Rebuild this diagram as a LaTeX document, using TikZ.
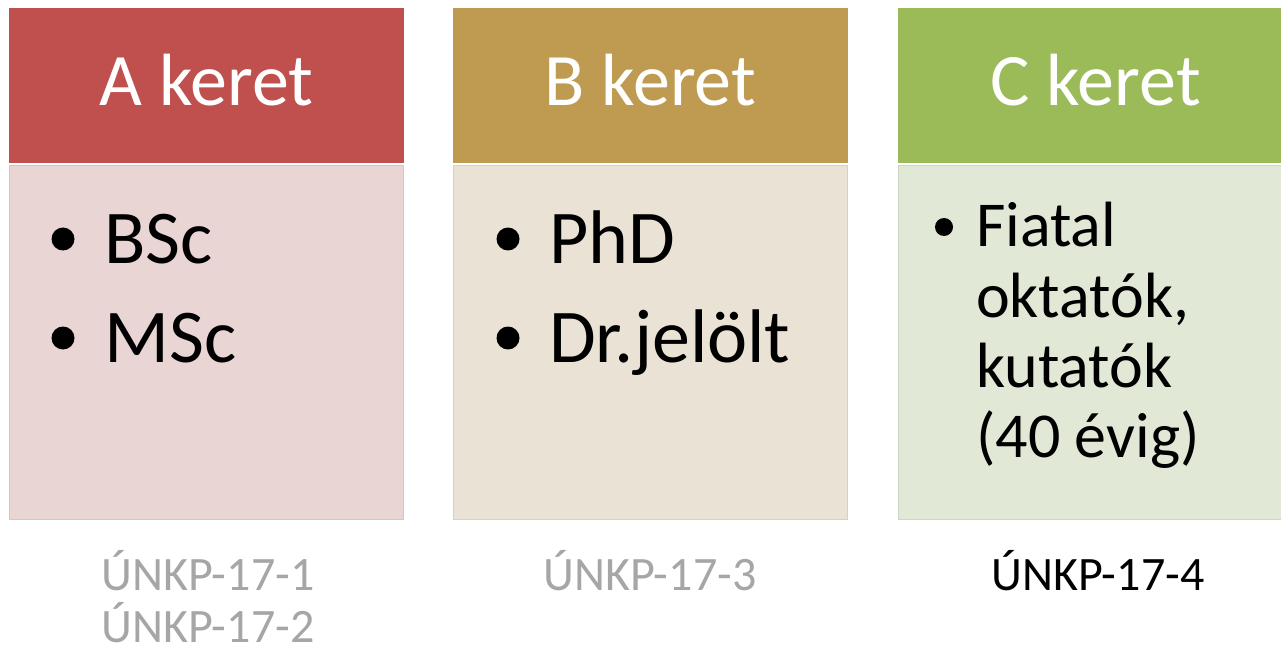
\documentclass[tikz,border=0pt]{standalone}
\usepackage{fontspec}
\setmainfont{Carlito}
\definecolor{hA}{HTML}{C0504D}
\definecolor{hB}{HTML}{BF9B52}
\definecolor{hC}{HTML}{9BBB59}
\definecolor{bA}{HTML}{EAD5D5}
\definecolor{bB}{HTML}{EAE3D5}
\definecolor{bC}{HTML}{E1E8D5}
\definecolor{lgray}{HTML}{A6A6A6}
\tikzset{
  head/.style={fill=#1, draw=none},
  body/.style={fill=#1, draw=#1!92!black, line width=1pt},
  htext/.style={text=white, font=\fontsize{74}{88}\selectfont, anchor=base, inner sep=0pt},
  btext/.style={text=black, font=\fontsize{76}{90}\selectfont, anchor=base west, inner sep=0pt},
  ctext/.style={text=black, font=\fontsize{64}{70}\selectfont, anchor=base west, inner sep=0pt, align=left},
  ltext/.style={font=\fontsize{48}{58}\selectfont, anchor=base, inner sep=0pt},
  bul/.style={circle, fill=black, inner sep=0pt, minimum size=#1},
}
\begin{document}
\begin{tikzpicture}[x=1pt,y=-1pt]
\useasboundingbox (0,0) rectangle (1281,652);
\begin{scope}
\clip (0,0) rectangle (1281,652);
% column A
\path[head=hA] (9,8) rectangle (404,163);
\path[body=bA] (9.5,165.5) rectangle (403.5,519.5);
% column B
\path[head=hB] (453,8) rectangle (848,163);
\path[body=bB] (453.5,165.5) rectangle (847.5,519.5);
% column C
\path[head=hC] (898,8) rectangle (1293,163);
\path[body=bC] (898.5,165.5) rectangle (1292.5,519.5);
\end{scope}
% headers
\node[htext] (ha) at (206.5,106) {A keret};
\node[htext] (hb) at (650.5,106) {B keret};
\node[htext] (hc) at (1095.5,106) {C keret};
% A body
\node[bul=23pt] (a1b) at (63,239) {};
\node[btext] (a1) at (104,263) {BSc};
\node[bul=23pt] (a2b) at (63,338) {};
\node[btext] (a2) at (104,362) {MSc};
% B body
\node[bul=23pt] (b1b) at (508,239) {};
\node[btext] (b1) at (549,263) {PhD};
\node[bul=23pt] (b2b) at (508,338) {};
\node[btext] (b2) at (549,362) {Dr.jelölt};
% C body
\node[bul=18pt] (c1b) at (944,227) {};
\node[ctext] (c1) at (976,247) {Fiatal};
\node[ctext] (c2) at (976,317) {oktatók,};
\node[ctext] (c3) at (976,387) {kutatók};
\node[ctext] (c4) at (976,457) {(40 évig)};
% labels
\node[ltext, text=lgray] (la1) at (208,590) {ÚNKP-17-1};
\node[ltext, text=lgray] (la2) at (208,642) {ÚNKP-17-2};
\node[ltext, text=lgray] (lb1) at (650,590) {ÚNKP-17-3};
\node[ltext, text=black] (lc1) at (1098,590) {ÚNKP-17-4};
\end{tikzpicture}
\end{document}
